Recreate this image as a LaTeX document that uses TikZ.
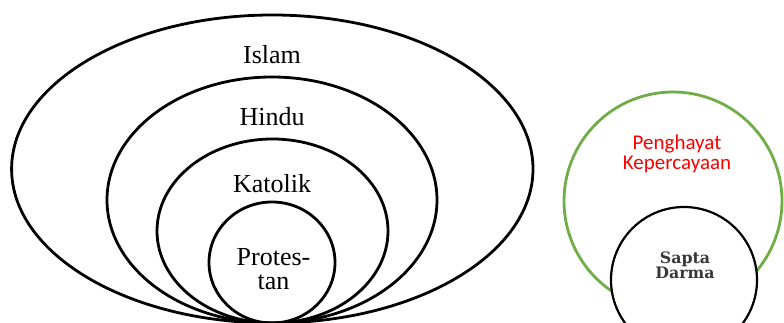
\documentclass[tikz,border=0pt]{standalone}
\usepackage{fontspec}
\setmainfont{Liberation Serif}
\newfontfamily\carlito{Carlito}
\newfontfamily\dvserif{DejaVu Serif}
\usetikzlibrary{shapes.geometric}
\definecolor{ringgreen}{RGB}{112,173,71}
\definecolor{penred}{RGB}{255,0,0}
\tikzset{
  ring/.style={draw=black, line width=2.8pt, ellipse, inner sep=0pt},
  gring/.style={draw=ringgreen, line width=2.8pt, ellipse, inner sep=0pt},
  lbl/.style={font=\fontsize{26}{24}\selectfont, anchor=base, inner sep=0pt, align=center},
  redlbl/.style={font=\carlito\fontsize{21}{20.5}\selectfont, text=penred, anchor=base, inner sep=0pt, align=center},
  saptalbl/.style={font=\dvserif\bfseries\fontsize{15.8}{15}\selectfont, text=black!78, anchor=base, inner sep=0pt, align=center}
}
\begin{document}
\begin{tikzpicture}[x=1pt,y=1pt]
\useasboundingbox (0,0) rectangle (784,323);
\clip (0,0) rectangle (784,323);
\fill[white] (0,0) rectangle (784,323);
% nested ellipses
\node[ring, minimum width=521.4pt, minimum height=308pt] (islam) at (272.3,154) {};
\node[ring, minimum width=330pt, minimum height=246pt] (hindu) at (272,123) {};
\node[ring, minimum width=231pt, minimum height=184pt] (katolik) at (272.5,92) {};
\node[ring, minimum width=126pt, minimum height=121pt] (protestan) at (272,60.5) {};
% labels
\node[lbl] (tislam) at (272,259) {Islam};
\node[lbl] (thindu) at (272,197) {Hindu};
\node[lbl] (tkatolik) at (272,130) {Katolik};
\node[lbl] (tprotes) at (273.5,33) {Protes-\\tan};
% right group
\node[gring, minimum width=218pt, minimum height=218pt] (penghayat) at (673,122) {};
\node[ring, line width=2.2pt, fill=white, minimum width=146pt, minimum height=146pt] (sapta) at (684,43) {};
\node[redlbl] (tpeng) at (677,153) {Penghayat\\Kepercayaan};
\node[saptalbl] (tsapta) at (685,44.7) {Sapta\\Darma};
\end{tikzpicture}
\end{document}
